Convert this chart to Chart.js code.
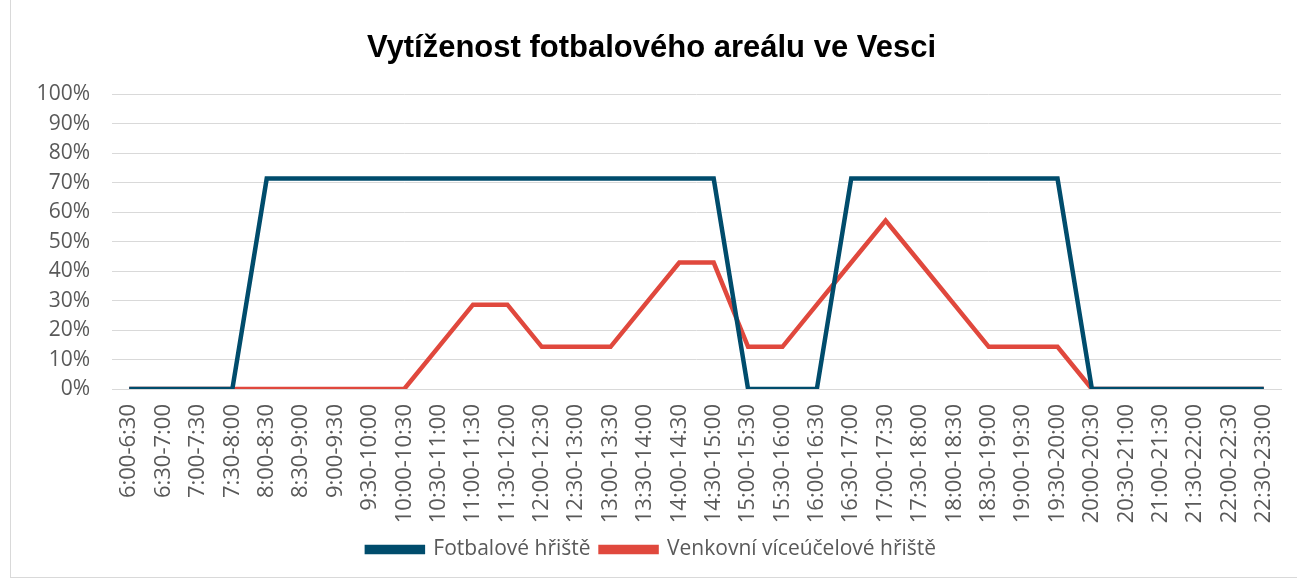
<!DOCTYPE html>
<html>
<head>
<meta charset="utf-8">
<script src="https://cdn.jsdelivr.net/npm/chart.js@4/dist/chart.umd.min.js"></script>
<style>
  body { margin: 0; background: #fff; }
  #wrap { position: absolute; left: 10px; top: 0; width: 1286px; height: 577px; border-left: 1px solid #d9d9d9; border-bottom: 1px solid #d9d9d9; }
</style>
</head>
<body>
<div id="wrap"><canvas id="usageChart" width="1286" height="577"></canvas></div>
<script>
let slots = ["6:00-6:30", "6:30-7:00", "7:00-7:30", "7:30-8:00", "8:00-8:30", "8:30-9:00", "9:00-9:30", "9:30-10:00",
  "10:00-10:30", "10:30-11:00", "11:00-11:30", "11:30-12:00", "12:00-12:30", "12:30-13:00", "13:00-13:30", "13:30-14:00",
  "14:00-14:30", "14:30-15:00", "15:00-15:30", "15:30-16:00", "16:00-16:30", "16:30-17:00", "17:00-17:30", "17:30-18:00",
  "18:00-18:30", "18:30-19:00", "19:00-19:30", "19:30-20:00", "20:00-20:30", "20:30-21:00", "21:00-21:30", "21:30-22:00",
  "22:00-22:30", "22:30-23:00"];

// share of booked time, in %
let football = [0, 0, 0, 0, 71.4, 71.4, 71.4, 71.4, 71.4, 71.4, 71.4, 71.4, 71.4, 71.4, 71.4, 71.4, 71.4, 71.4,
  0, 0, 0, 71.4, 71.4, 71.4, 71.4, 71.4, 71.4, 71.4, 0, 0, 0, 0, 0, 0];
let outdoor = [0, 0, 0, 0, 0, 0, 0, 0, 0, 14.3, 28.6, 28.6, 14.3, 14.3, 14.3, 28.6, 42.9, 42.9,
  14.3, 14.3, 28.6, 42.9, 57.1, 42.9, 28.6, 14.3, 14.3, 14.3, 0, 0, 0, 0, 0, 0];

let seriesNames = ["Fotbalové hřiště", "Venkovní víceúčelové hřiště"];
let yTicks = [0, 10, 20, 30, 40, 50, 60, 70, 80, 90, 100];

const blue = "#004C6C";
const red = "#E0483D";
const gray = "#595959";

let ctx = document.getElementById('usageChart').getContext("2d");

let usageChart = new Chart(ctx, {
  type: 'line',
  data: {
    labels: slots,
    datasets: [
      {
        label: seriesNames[0],
        data: football,
        borderColor: blue,
        backgroundColor: blue,
        borderWidth: 4.5,
        pointRadius: 0,
        tension: 0
      }, {
        label: seriesNames[1],
        data: outdoor,
        borderColor: red,
        backgroundColor: red,
        borderWidth: 4.5,
        pointRadius: 0,
        tension: 0
      }
    ]
  },
  options: {
    responsive: false,
    animation: false,
    layout: { padding: { left: 11, right: 16, top: 0, bottom: 7 } },
    plugins: {
      title: {
        display: true,
        text: "Vytíženost fotbalového areálu ve Vesci",
        color: "#000",
        font: { family: "Liberation Sans", size: 31, weight: "bold" },
        padding: { top: 30, bottom: 27 }
      },
      legend: {
        display: true,
        position: 'bottom',
        labels: {
          color: gray,
          font: { family: "Open Sans", size: 21 },
          boxWidth: 56,
          boxHeight: 5,
          padding: 10
        }
      },
      tooltip: { enabled: false }
    },
    scales: {
      x: {
        offset: true,
        afterFit: function(scale) {
          scale.height = 140;
          scale.paddingLeft = 0;
          scale.paddingRight = 0;
        },
        grid: { display: false, drawTicks: false },
        border: { color: "#d9d9d9", width: 1 },
        ticks: {
          color: gray,
          font: { family: "Open Sans", size: 22 },
          minRotation: 90,
          maxRotation: 90,
          autoSkip: false,
          padding: 15
        }
      },
      y: {
        min: 0,
        max: 100,
        afterFit: function(scale) { scale.width = 90; },
        afterBuildTicks: function(scale) { scale.ticks = yTicks.map(v => ({ value: v })); },
        grid: { color: "#d9d9d9", lineWidth: 1, drawTicks: false },
        border: { display: false },
        ticks: {
          color: gray,
          font: { family: "Open Sans", size: 21 },
          padding: 22,
          callback: function(v) { return v + "%"; }
        }
      }
    }
  }
});
</script>
</body>
</html>
